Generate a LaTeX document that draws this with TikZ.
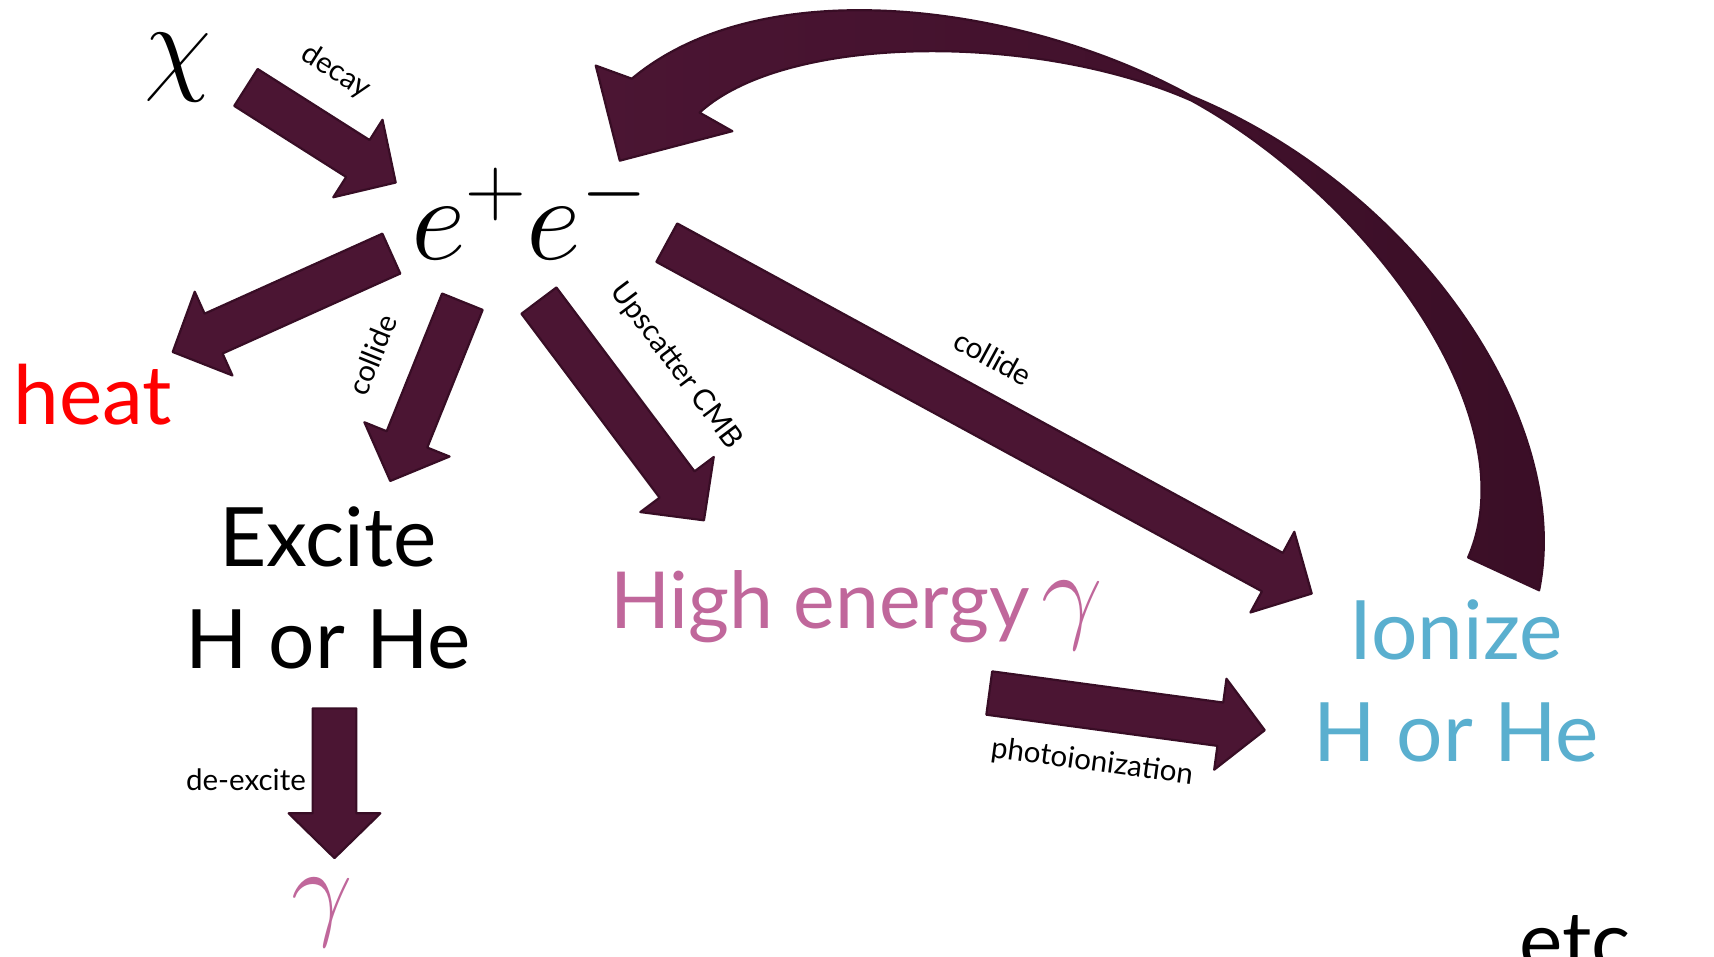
\RequirePackage{fix-cm}
\documentclass[tikz,border=0pt]{standalone}
\usepackage[no-math]{fontspec}
\setmainfont{Lato}
\usetikzlibrary{calc}
\definecolor{plum}{RGB}{75,21,51}
\definecolor{plumdark}{RGB}{56,13,37}
\definecolor{plumdeep}{RGB}{58,14,38}
\definecolor{photonpink}{RGB}{192,103,155}
\definecolor{ionblue}{RGB}{90,175,207}

\tikzset{
  fatarrow/.style={fill=plum,draw=plumdark,line width=2pt,line join=round},
  lbl/.style={inner sep=0pt,font=\fontsize{27}{32}\selectfont},
  big/.style={inner sep=0pt,align=center,font=\fontsize{75}{93}\selectfont},
  sym/.style={inner sep=0pt,font=\fontsize{100}{120}\selectfont}
}

% block arrow: [label options]{from}{to}{label}
\newcommand{\fatarrow}[4][]{%
  \filldraw[fatarrow] ($(#2)!20pt!90:(#3)$)
    -- ($(#3)!41pt!(#2)!20pt!90:(#3)$)
    -- ($(#3)!41pt!(#2)!42pt!90:(#3)$)
    -- (#3)
    -- ($(#3)!41pt!(#2)!42pt!-90:(#3)$)
    -- ($(#3)!41pt!(#2)!20pt!-90:(#3)$)
    -- ($(#2)!20pt!-90:(#3)$) -- cycle;
  \path (#2) -- node[lbl,#1] {#4} (#3);
}

\begin{document}
\begin{tikzpicture}[x=1pt,y=-1pt]
  \path[use as bounding box,fill=white] (0,0) rectangle (1568,875);

  % species
  \node[sym] (chi) at (163,62) {$\chi$};
  \node[sym,font=\fontsize{110}{130}\selectfont,anchor=base west] (ee)
    at (376,237) {$e^+e^-$};
  \node[big,text=red,anchor=base west] (heat) at (12,388) {heat};
  \node[big] (excite) at (300,538) {Excite\\H or He};
  \node[big,font=\fontsize{72}{90}\selectfont,text=photonpink,
        anchor=base west] (high) at (558,575)
    {High energy\hspace{11pt}{\fontsize{100}{120}\selectfont$\gamma$}};
  \node[big,text=ionblue] (ionize) at (1332,623) {Ionize\\H or He};
  \node[sym,text=photonpink] (gam) at (295,835) {$\gamma$};
  \node[big,anchor=base west] (etc) at (1390,888) {etc};

  % arrow ends
  \coordinate (dec-s) at (225,80);   \coordinate (dec-e) at (362,167);
  \coordinate (heat-s) at (358,232); \coordinate (heat-e) at (158,322);
  \coordinate (exc-s) at (423,276);  \coordinate (exc-e) at (357,440);
  \coordinate (ups-s) at (493,275);  \coordinate (ups-e) at (644,476);
  \coordinate (ion-s) at (610,222);  \coordinate (ion-e) at (1200,543);
  \coordinate (pho-s) at (905,634);  \coordinate (pho-e) at (1157,668);
  \coordinate (dex-s) at (306,648);  \coordinate (dex-e) at (306,785);

  \fatarrow[sloped,pos=.38,above=44pt]{dec-s}{dec-e}{decay}
  \fatarrow{heat-s}{heat-e}{}
  \fatarrow[sloped,pos=.43,above=48pt]{exc-s}{exc-e}{collide}
  \fatarrow[sloped,pos=.49,above=52pt]{ups-s}{ups-e}{Upscatter CMB}
  \fatarrow[sloped,pos=.465,above=40pt]{ion-s}{ion-e}{collide}
  \fatarrow[sloped,pos=.40,below=38pt]{pho-s}{pho-e}{photoionization}
  \fatarrow[pos=.48,left=26pt]{dex-s}{dex-e}{de-excite}

  % ionized electrons go round again
  \draw[draw=plumdark,line width=2pt,line join=round,
        left color=plum,right color=plumdeep]
    (1408,540) .. controls (1440,380) and (1290,170) .. (1090,88)
    .. controls (940,5) and (700,-30) .. (578,72)
    -- (545,60) -- (567,147) -- (670,120) -- (640,103)
    .. controls (720,30) and (950,30) .. (1090,92)
    .. controls (1250,180) and (1400,380) .. (1343,510) -- cycle;
\end{tikzpicture}
\end{document}
